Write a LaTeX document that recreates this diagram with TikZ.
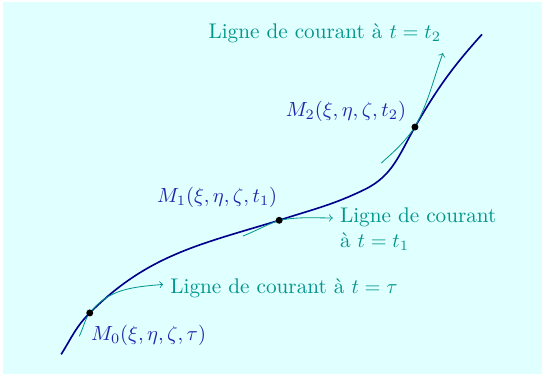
\documentclass[tikz,border=0pt]{standalone}
\usepackage{tikz}
\definecolor{fondcyan}{RGB}{224,255,255}
\definecolor{trajbleu}{RGB}{0,0,140}
\definecolor{ptbleu}{RGB}{35,35,170}
\definecolor{courteal}{RGB}{0,150,140}
\tikzset{
  every node/.style={font=\fontsize{10.35}{12.3}\selectfont},
  trajectoire/.style={thick, trajbleu},
  courant/.style={courteal, ->},
  pointlab/.style={ptbleu},
  courantlab/.style={courteal}
}
\begin{document}
\begin{tikzpicture}
\useasboundingbox (0,0) rectangle (9.30,6.42);
\fill[fondcyan] (0.05,0) rectangle (9.30,6.38);
\coordinate (S) at (1.05,0.34);
\coordinate (M0) at (1.54,1.05);
\coordinate (M1) at (4.79,2.64);
\coordinate (K) at (6.26,3.17);
\coordinate (M2) at (7.12,4.24);
\coordinate (E) at (8.27,5.83);
\coordinate (a0) at (1.36,0.65);
\coordinate (e0) at (2.80,1.54);
\coordinate (a1) at (4.17,2.37);
\coordinate (e1) at (5.71,2.68);
\coordinate (a2) at (6.54,3.62);
\coordinate (e2) at (7.60,5.51);
\draw[trajectoire] (S) to[out=58,in=225] (M0) to[out=45,in=197] (M1)
  to[out=18,in=206] (K) to[out=26,in=240] (M2) to[out=60,in=228] (E);
\draw[courant] (a0) to[out=64,in=235] (M0) to[out=52,in=185] (e0);
\draw[courant] (a1) to[out=22,in=200] (M1) to[out=10,in=180] (e1);
\draw[courant] (a2) to[out=42,in=235] (M2) to[out=62,in=250] (e2);
\foreach \p in {M0,M1,M2}
{
	\fill (\p) circle (1.7pt);
}
\node[pointlab, anchor=west] (l0) at ([xshift=-0.10cm,yshift=-0.39cm]M0) {$M_0(\xi,\eta,\zeta,\tau)$};
\node[pointlab, anchor=east] (l1) at ([xshift=0.09cm,yshift=0.39cm]M1) {$M_1(\xi,\eta,\zeta,t_1)$};
\node[pointlab, anchor=east] (l2) at ([xshift=-0.03cm,yshift=0.27cm]M2) {$M_2(\xi,\eta,\zeta,t_2)$};
\node[courantlab, anchor=west] (c0) at ([yshift=-0.06cm]e0) {Ligne de courant à $t=\tau$};
\node[courantlab, anchor=north west, align=left] (c1) at ([yshift=0.30cm]e1) {Ligne de courant\\à $t=t_1$};
\node[courantlab, anchor=south east] (c2) at ([xshift=0.09cm,yshift=0.05cm]e2) {Ligne de courant à $t=t_2$};
\end{tikzpicture}
\end{document}
